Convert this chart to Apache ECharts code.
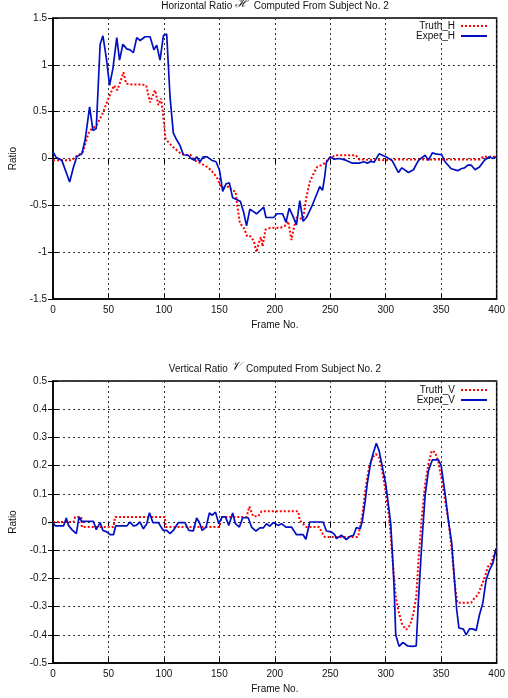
<!DOCTYPE html>
<html><head><meta charset="utf-8">
<script src="https://cdn.jsdelivr.net/npm/echarts@6/dist/echarts.min.js"></script>
<style>html,body{margin:0;padding:0;background:#fff}#c{width:508px;height:698px}</style>
</head><body><div id="c"></div>
<script>
// ---- data ----
const frameTicks = [0, 50, 100, 150, 200, 250, 300, 350, 400];
const hTicks = [-1.5, -1, -0.5, 0, 0.5, 1, 1.5];
const vTicks = [-0.5, -0.4, -0.3, -0.2, -0.1, 0, 0.1, 0.2, 0.3, 0.4, 0.5];

const truthH = [[0,-0.02],[8,-0.02],[17,-0.02],[20,0.02],[23,0.035],[27,0.07],[32,0.27],[35,0.32],[39,0.35],[44,0.46],[48,0.58],[51,0.67],[55,0.78],[58,0.73],[61,0.83],[63.5,0.92],[66,0.80],[71,0.79],[80,0.79],[84,0.78],[87.5,0.60],[92,0.73],[95,0.57],[97.5,0.64],[99.5,0.44],[101.5,0.21],[105,0.16],[109.5,0.11],[115.5,0.05],[121.5,0.035],[124,0.04],[127.5,-0.02],[133,-0.05],[139,-0.09],[142,-0.12],[145,-0.16],[148,-0.21],[151,-0.29],[154,-0.31],[158.5,-0.30],[161.5,-0.34],[164.5,-0.35],[166,-0.49],[168.5,-0.69],[172,-0.74],[175,-0.83],[178,-0.83],[181,-0.88],[183.5,-1.0],[185.5,-0.90],[187.5,-0.84],[189,-0.94],[191.5,-0.76],[196,-0.74],[205,-0.74],[209,-0.72],[212,-0.67],[215,-0.87],[217.5,-0.72],[219.5,-0.63],[222,-0.64],[225.5,-0.64],[228.5,-0.41],[231.5,-0.25],[235,-0.16],[238,-0.09],[242,-0.07],[245,-0.05],[249,0],[255,0.035],[267,0.035],[273,0.035],[276,-0.01],[300,-0.018],[306,-0.01],[340,-0.01],[385,-0.01],[388,0.02],[400,0.02]];

const experH = [[0,0.07],[3,0.01],[8,-0.02],[15,-0.25],[18.5,-0.09],[21.5,0.02],[26,0.05],[29,0.2],[33,0.55],[36,0.3],[39,0.32],[42.5,1.22],[45,1.31],[48,1.08],[51,0.78],[54,0.96],[57.5,1.29],[60,1.05],[63,1.22],[66.5,1.17],[69.5,1.16],[72.5,1.13],[75.5,1.29],[78.5,1.26],[83,1.30],[87.5,1.30],[91,1.16],[93.5,1.21],[96.5,1.05],[99.5,1.31],[102.5,1.33],[105.5,0.66],[108.5,0.27],[111.5,0.2],[114.5,0.14],[117.5,0.04],[122,0.035],[124.5,0],[127.5,-0.018],[129.5,0.018],[132.5,-0.035],[135.5,0.018],[139,0.018],[143,-0.018],[147,-0.035],[150,-0.12],[151,-0.19],[153,-0.35],[156,-0.27],[159,-0.26],[162,-0.42],[166,-0.44],[169,-0.46],[172,-0.58],[174.5,-0.72],[177.5,-0.54],[183.5,-0.59],[190,-0.52],[192,-0.63],[199,-0.63],[202,-0.59],[207,-0.59],[210,-0.68],[213,-0.53],[216.5,-0.62],[219.5,-0.71],[222.5,-0.45],[225.5,-0.67],[228.5,-0.63],[233,-0.52],[237.5,-0.39],[240.5,-0.30],[243,-0.34],[245,-0.19],[246.5,-0.04],[250,0.018],[253.5,-0.007],[258,0],[264,-0.018],[270,-0.05],[276,-0.05],[280.5,-0.035],[283.5,-0.05],[286.5,-0.03],[289.5,-0.04],[294,0.05],[300,0.018],[305.5,-0.018],[311.5,-0.15],[314.5,-0.1],[320.5,-0.15],[325,-0.12],[329.5,-0.02],[335.5,0.035],[338.5,-0.02],[342,0.06],[346,0.046],[350.5,0.04],[353.5,-0.035],[359,-0.11],[365,-0.13],[368,-0.11],[371,-0.1],[374,-0.07],[377,-0.07],[380.5,-0.12],[384.5,-0.09],[389,-0.018],[393.5,0.018],[396.5,0],[400,0.018]];

const truthV = [[0,0],[18.5,0],[20,0.018],[25.5,0.018],[26,-0.018],[54.5,-0.018],[56,0.018],[101,0.018],[101.5,-0.018],[150,-0.018],[152,0.018],[174.5,0.018],[177,0.055],[179,0.035],[180.5,0.02],[185,0.02],[188,0.038],[221,0.038],[222.5,0.006],[225.5,-0.006],[228.5,-0.018],[240,-0.018],[243,-0.041],[245,-0.053],[275,-0.053],[276,-0.035],[279,0.029],[282,0.124],[285,0.194],[288,0.229],[291,0.241],[294,0.229],[297,0.176],[300,0.106],[303,0.018],[306,-0.124],[309,-0.265],[312,-0.324],[315,-0.365],[318.5,-0.382],[322,-0.365],[325,-0.324],[327.5,-0.265],[329.5,-0.135],[332.5,0.018],[335.5,0.135],[338.5,0.206],[341.5,0.253],[344.5,0.247],[347.5,0.212],[350.5,0.147],[353.5,0.076],[356.5,0.006],[359.5,-0.1],[362.5,-0.229],[364.5,-0.286],[377,-0.286],[380,-0.27],[383,-0.259],[386,-0.229],[389,-0.2],[392,-0.159],[395,-0.147],[398,-0.112],[400,-0.095]];

const experV = [[0,0],[2,-0.014],[9.5,-0.014],[12,0.014],[14,-0.012],[17,-0.027],[21,-0.041],[23.5,0.018],[26,0.002],[36.5,0.002],[39,-0.027],[42.5,-0.002],[45,-0.03],[48.5,-0.035],[51.5,-0.045],[54.5,-0.045],[56.5,-0.014],[66.5,-0.014],[69.5,0],[72.5,-0.014],[75,-0.012],[78.5,0],[81.5,-0.024],[84.5,-0.006],[87,0.033],[90,-0.002],[95,-0.002],[97.5,-0.018],[99.5,-0.03],[102.5,-0.03],[105.5,-0.041],[108.5,-0.03],[113,-0.002],[119,-0.002],[122.5,-0.03],[126.5,-0.032],[129.5,0.014],[132,-0.002],[134.5,-0.03],[138,-0.018],[141,0.032],[143.5,0.024],[146.5,0.035],[149.5,-0.006],[152.5,0.018],[155.5,0.018],[158.5,-0.012],[162,0.032],[164.5,-0.006],[168,-0.018],[171,0.015],[176,0.015],[179,-0.018],[183,-0.032],[186.5,-0.021],[189.5,-0.021],[192.5,-0.006],[195.5,-0.015],[198.5,-0.002],[203,-0.012],[206,-0.006],[210,-0.018],[215,-0.018],[219.5,-0.045],[225.5,-0.045],[228,-0.061],[231.5,0],[243.5,0],[246.5,-0.032],[251,-0.035],[254,-0.045],[255.5,-0.059],[260,-0.047],[264.5,-0.062],[268,-0.051],[271,-0.047],[273.5,-0.02],[277,-0.024],[279,0.006],[281.5,0.076],[283.5,0.141],[286.5,0.212],[288.5,0.241],[291.5,0.279],[294,0.253],[297,0.194],[300,0.135],[303,0.041],[304.5,-0.006],[306,-0.112],[307.5,-0.229],[309,-0.4],[312,-0.441],[315.5,-0.427],[319.5,-0.439],[324,-0.441],[327.5,-0.439],[329.5,-0.276],[332.5,-0.076],[335.5,0.094],[338.5,0.182],[342,0.22],[347.5,0.22],[350,0.2],[353.5,0.1],[356.5,0.006],[359.5,-0.076],[364,-0.312],[366,-0.376],[370,-0.38],[372.5,-0.4],[375.5,-0.379],[378.5,-0.379],[381.5,-0.385],[384.5,-0.329],[387.5,-0.288],[390.5,-0.206],[393.5,-0.171],[396.5,-0.147],[399.5,-0.094]];

// ---- chart ----
const FONT = 'Liberation Sans, Arial, Helvetica, sans-serif';
const TXT = '#111';
const RED = '#ff0000';
const BLUE = '#0010c0';

function fmt(v) { return String(Math.round(v * 10) / 10); }

function mainX(gi) {
  return {
    type: 'value', gridIndex: gi,
    min: frameTicks[0], max: frameTicks[frameTicks.length - 1],
    interval: frameTicks[1] - frameTicks[0],
    name: 'Frame No.', nameLocation: 'middle', nameGap: 21,
    nameTextStyle: { fontFamily: FONT, fontSize: 10, color: TXT },
    axisLine: { show: true, onZero: false, lineStyle: { color: '#000', width: 1.5 } },
    axisTick: { show: true, inside: true, length: 5, lineStyle: { color: '#000' } },
    axisLabel: { fontFamily: FONT, fontSize: 10, color: TXT, margin: 6 },
    splitLine: { show: true, lineStyle: { color: '#333', type: [2, 3], width: 1 } }
  };
}
function mirrorX(gi) {
  return {
    type: 'value', gridIndex: gi, position: 'top',
    min: frameTicks[0], max: frameTicks[frameTicks.length - 1],
    interval: frameTicks[1] - frameTicks[0],
    axisLine: { show: false }, axisLabel: { show: false }, splitLine: { show: false },
    axisTick: { show: true, inside: true, length: 5, lineStyle: { color: '#000' } }
  };
}
function mainY(gi, ticks) {
  return {
    type: 'value', gridIndex: gi,
    min: ticks[0], max: ticks[ticks.length - 1],
    interval: Math.round((ticks[1] - ticks[0]) * 10) / 10,
    name: 'Ratio', nameLocation: 'middle', nameGap: 35,
    nameTextStyle: { fontFamily: FONT, fontSize: 10, color: TXT },
    axisLine: { show: true, onZero: false, lineStyle: { color: '#000', width: 1.5 } },
    axisTick: { show: true, inside: true, length: 5, lineStyle: { color: '#000' } },
    axisLabel: { fontFamily: FONT, fontSize: 10, color: TXT, margin: 6, formatter: fmt },
    splitLine: { show: true, lineStyle: { color: '#333', type: [2, 3], width: 1 } }
  };
}
function mirrorY(gi, ticks) {
  return {
    type: 'value', gridIndex: gi, position: 'right',
    min: ticks[0], max: ticks[ticks.length - 1],
    interval: Math.round((ticks[1] - ticks[0]) * 10) / 10,
    axisLine: { show: false }, axisLabel: { show: false }, splitLine: { show: false },
    axisTick: { show: true, inside: true, length: 5, lineStyle: { color: '#000' } }
  };
}
function lineSeries(name, data, xi, yi, color, dotted) {
  return {
    name, type: 'line', data, xAxisIndex: xi, yAxisIndex: yi,
    symbol: 'none', showSymbol: false, smooth: false,
    lineStyle: dotted ? { color, width: 2, type: [2, 2] } : { color, width: 1.7, type: 'solid' },
    itemStyle: { color },
    emphasis: { disabled: true }
  };
}

const titleRich = {
  s: { fontFamily: 'DejaVu Serif, serif', fontStyle: 'italic', fontSize: 12, color: TXT, padding: [0, 0, 4, 0] }
};

const legendCommon = {
  orient: 'vertical', right: 20, padding: 0,
  itemWidth: 26, itemHeight: 10, itemGap: 0, align: 'right', selectedMode: false,
  itemStyle: { opacity: 0 },
  textStyle: { fontFamily: FONT, fontSize: 10, color: TXT, padding: [0, 1, 0, 0] }
};

const chart = echarts.init(document.getElementById('c'), null, { renderer: 'canvas' });
chart.setOption({
  animation: false,
  backgroundColor: '#fff',
  title: [
    { text: 'Horizontal Ratio {s|ℋ}  Computed From Subject No. 2', left: 275, top: -2, textAlign: 'center', padding: 0,
      textStyle: { fontFamily: FONT, fontSize: 10, fontWeight: 'normal', color: TXT, rich: titleRich } },
    { text: 'Vertical Ratio {s|𝒱}  Computed From Subject No. 2', left: 275, top: 361, textAlign: 'center', padding: 0,
      textStyle: { fontFamily: FONT, fontSize: 10, fontWeight: 'normal', color: TXT, rich: titleRich } }
  ],
  legend: [
    Object.assign({ data: ['Truth_H', 'Exper_H'], top: 21 }, legendCommon),
    Object.assign({ data: ['Truth_V', 'Exper_V'], top: 385 }, legendCommon)
  ],
  grid: [
    { left: 51, right: 9, top: 18, height: 281, show: true, borderColor: '#000', borderWidth: 1.5, backgroundColor: 'transparent' },
    { left: 51, right: 9, top: 381, height: 282, show: true, borderColor: '#000', borderWidth: 1.5, backgroundColor: 'transparent' }
  ],
  xAxis: [mainX(0), mainX(1), mirrorX(0), mirrorX(1)],
  yAxis: [mainY(0, hTicks), mainY(1, vTicks), mirrorY(0, hTicks), mirrorY(1, vTicks)],
  series: [
    lineSeries('Truth_H', truthH, 0, 0, RED, true),
    lineSeries('Exper_H', experH, 0, 0, BLUE, false),
    lineSeries('Truth_V', truthV, 1, 1, RED, true),
    lineSeries('Exper_V', experV, 1, 1, BLUE, false)
  ]
});
</script>
</body></html>
